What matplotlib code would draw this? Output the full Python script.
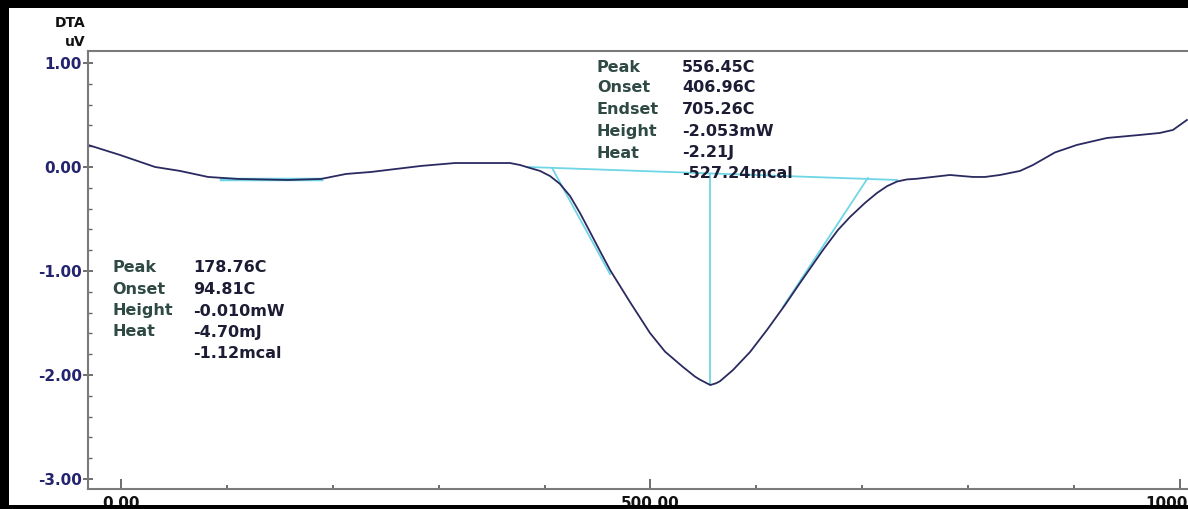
import matplotlib.pyplot as plt
from matplotlib.patches import Rectangle
from matplotlib.ticker import MultipleLocator, FixedLocator

# DTA curve (temperature C, signal uV)
temp = [-31.2, -0.9, 32.1, 55.7, 82.2, 110.5, 134.0, 157.7, 188.9, 212.5,
        236.1, 259.7, 283.3, 315.4, 329.6, 346.6, 367.3, 376.8, 386.2, 395.7,
        405.1, 414.5, 424.0, 433.4, 442.9, 452.3, 461.8, 480.6, 499.5,
        513.7, 530.7, 542.0, 546.7, 554.3, 556.5, 561.8, 565.6, 577.9, 594.0, 610.0,
        627.0, 641.2, 662.9, 677.0, 688.4, 702.5, 713.9, 723.3, 732.8, 742.0, 751.7,
        782.8, 804.5, 815.9, 830.0, 849.0, 861.2, 882.0, 902.7, 931.1, 962.2,
        981.0, 993.4, 1006.6]
dta = [0.212, 0.115, 0.0, -0.038, -0.096, -0.115, -0.120, -0.125, -0.115, -0.067,
       -0.048, -0.019, 0.010, 0.038, 0.038, 0.038, 0.038, 0.019, -0.010, -0.038,
       -0.087, -0.163, -0.279, -0.442, -0.625, -0.808, -0.990, -1.298, -1.596,
       -1.775, -1.923, -2.015, -2.045, -2.085, -2.096, -2.080, -2.060, -1.952, -1.779, -1.567,
       -1.327, -1.115, -0.798, -0.606, -0.481, -0.346, -0.250, -0.185, -0.140, -0.120, -0.113,
       -0.077, -0.096, -0.096, -0.077, -0.038, 0.019, 0.140, 0.212, 0.279, 0.308,
       0.327, 0.356, 0.452]

# analysis construction lines
base2_x = [383.4, 732.8]
base2_y = [0.0, -0.125]
onset_x = [406.96, 461.8]
onset_y = [-0.008, -1.03]
endset_x = [705.26, 625.1]
endset_y = [-0.106, -1.346]
peak2_x = [556.45, 556.45]
peak2_y = [-0.067, -2.096]
base1_x = [94.81, 188.9]
base1_y = [-0.115, -0.115]

peak2_names = ['Peak', 'Onset', 'Endset', 'Height', 'Heat', '']
peak2_vals = ['556.45C', '406.96C', '705.26C', '-2.053mW', '-2.21J', '-527.24mcal']
peak1_names = ['Peak', 'Onset', 'Height', 'Heat', '']
peak1_vals = ['178.76C', '94.81C', '-0.010mW', '-4.70mJ', '-1.12mcal']

W, H = 1188, 509
fig = plt.figure(figsize=(W / 100, H / 100), dpi=100)
ax = fig.add_axes([88 / W, (H - 489) / H, 1 - 88 / W, (489 - 51) / H])

cyan = '#6fd6e6'
ax.plot(base2_x, base2_y, color=cyan, lw=1.3)
ax.plot(onset_x, onset_y, color=cyan, lw=1.3)
ax.plot(endset_x, endset_y, color=cyan, lw=1.3)
ax.plot(peak2_x, peak2_y, color=cyan, lw=1.3)
ax.plot(base1_x, base1_y, color=cyan, lw=2.5)
ax.plot(temp, dta, color='#2a2a60', lw=1.3)

ax.set_xlim(-31.2, 1007.6)
ax.set_ylim(-3.096, 1.115)

ax.xaxis.set_major_locator(FixedLocator([0, 500, 1000]))
ax.xaxis.set_minor_locator(MultipleLocator(100))
ax.yaxis.set_major_locator(MultipleLocator(1))
ax.yaxis.set_minor_locator(MultipleLocator(0.2))
ax.set_xticklabels(['0.00', '500.00', '1000.00'])
ax.set_yticks([1, 0, -1, -2, -3])
ax.set_yticklabels(['1.00', '0.00', '-1.00', '-2.00', '-3.00'])

for lab in ax.get_xticklabels():
    lab.set_fontweight('bold')
    lab.set_fontsize(11)
    lab.set_color('#111111')
for lab in ax.get_yticklabels():
    lab.set_fontweight('bold')
    lab.set_fontsize(11)
    lab.set_color('#24246e')

ax.tick_params(axis='x', which='major', direction='in', length=7, width=1.2,
               color='#555555', pad=5)
ax.tick_params(axis='x', which='minor', direction='in', length=3, width=1.2,
               color='#555555')
ax.tick_params(axis='y', which='major', direction='inout', length=7, width=1.2,
               color='#555555', pad=1)
ax.tick_params(axis='y', which='minor', direction='in', length=3, width=1.0,
               color='#666666')

for s in ['left', 'top', 'bottom']:
    ax.spines[s].set_color('#7a7a7a')
    ax.spines[s].set_linewidth(1.5)
ax.spines['right'].set_visible(False)

# annotation blocks
name_col = '#2f4a44'
val_col = '#1c1c34'
fs = 11.5
ys2 = [67, 88, 110, 132, 153, 173]
for n, v, py in zip(peak2_names, peak2_vals, ys2):
    fig.text(597 / W, 1 - py / H, n, fontsize=fs, fontweight='bold',
             color=name_col, va='center', ha='left')
    fig.text(682 / W, 1 - py / H, v, fontsize=fs, fontweight='bold',
             color=val_col, va='center', ha='left')
ys1 = [268, 290, 311, 332, 353]
for n, v, py in zip(peak1_names, peak1_vals, ys1):
    fig.text(112 / W, 1 - py / H, n, fontsize=fs, fontweight='bold',
             color=name_col, va='center', ha='left')
    fig.text(193 / W, 1 - py / H, v, fontsize=fs, fontweight='bold',
             color=val_col, va='center', ha='left')

fig.text(86 / W, 1 - 23 / H, 'DTA', fontsize=10, fontweight='bold',
         color='#111111', ha='right', va='center')
fig.text(86 / W, 1 - 42 / H, 'uV', fontsize=10, fontweight='bold',
         color='#111111', ha='right', va='center')

# black border of the screenshot
for r in [(0, H - 8, W, 8), (0, 0, 9, H), (0, 0, W, 4)]:
    fig.patches.append(Rectangle((r[0] / W, r[1] / H), r[2] / W, r[3] / H,
                                 transform=fig.transFigure, facecolor='black',
                                 edgecolor='none', zorder=20))

fig.savefig('out.png', dpi=100)
